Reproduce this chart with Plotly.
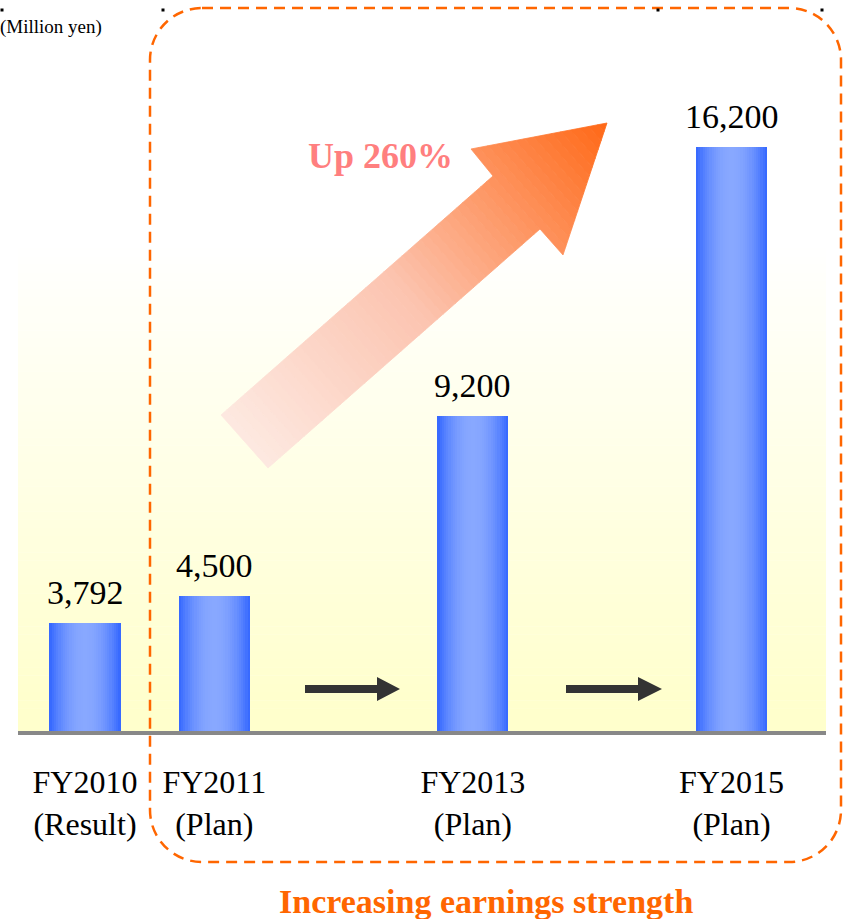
import plotly.graph_objects as go

# ---------------- data ----------------
years = [2010, 2011, 2013, 2015]
values = [3792, 4500, 9200, 16200]
tick_text = ["FY2010<br>(Result)", "FY2011<br>(Plan)", "FY2013<br>(Plan)", "FY2015<br>(Plan)"]
unit_label = "(Million yen)"
growth_label = "Up 260%"
footer_label = "Increasing earnings strength"

# ---------------- geometry helpers ----------------
W, H = 850, 919
PB = 733  # pixel row of the plot bottom (baseline)
FONT = "Liberation Serif"


def px(x):
    return x / W


def py(y):
    return (PB - y) / PB


def hexc(c):
    return "rgb(%d,%d,%d)" % tuple(int(round(v)) for v in c)


def lerp(a, b, t):
    return tuple(a[i] + (b[i] - a[i]) * t for i in range(3))


fig = go.Figure()

# ---------------- gradient bars (overlayed narrowing bars) ----------------
BW = 0.55
dark = (51, 102, 255)
light = (136, 168, 255)
N = 16
for k in range(N):
    w = BW * (1 - k / N)
    d = 1 - (k + 0.5) / N
    col = lerp(light, dark, d ** 2)
    fig.add_trace(go.Bar(x=years, y=values, width=w, marker=dict(color=hexc(col), line=dict(width=0)),
                         hoverinfo="skip", showlegend=False))

shapes = []

# ---------------- background gradient (white -> pale yellow) ----------------
top_y, bot_y = 240, PB
nb = 60
for i in range(nb):
    y0 = top_y + (bot_y - top_y) * i / nb
    y1 = top_y + (bot_y - top_y) * (i + 1) / nb
    t = (i + 0.5) / nb
    col = lerp((255, 255, 255), (255, 255, 204), min(1, t * 1.05))
    shapes.append(dict(type="rect", xref="paper", yref="paper", x0=px(18), x1=px(826),
                       y0=py(y1) - 0.0005, y1=py(y0), fillcolor=hexc(col), line=dict(width=0), layer="below"))

# ---------------- big gradient arrow ----------------
poly = [(221, 415), (268, 468), (540, 229), (563, 255), (607, 123), (471, 149), (493, 176)]
ox, oy = 244.5, 441.5
ux, uy = 362.5, -318.5
L = (ux ** 2 + uy ** 2) ** 0.5
ux, uy = ux / L, uy / L


def proj(p):
    return (p[0] - ox) * ux + (p[1] - oy) * uy


def clip(pts, a, keep_ge):
    out = []
    n = len(pts)
    for i in range(n):
        p, q = pts[i], pts[(i + 1) % n]
        tp, tq = proj(p) - a, proj(q) - a
        inp = tp >= 0 if keep_ge else tp <= 0
        inq = tq >= 0 if keep_ge else tq <= 0
        if inp:
            out.append(p)
        if inp != inq:
            s = tp / (tp - tq)
            out.append((p[0] + (q[0] - p[0]) * s, p[1] + (q[1] - p[1]) * s))
    return out


tvals = [proj(p) for p in poly]
tmin, tmax = min(tvals), max(tvals)
c0, cm, c1 = (253, 233, 225), (252, 196, 176), (255, 104, 22)
NS = 60
for i in range(NS):
    a = tmin + (tmax - tmin) * i / NS
    b = tmin + (tmax - tmin) * (i + 1) / NS
    seg = clip(clip(poly, a, True), b, False)
    if len(seg) < 3:
        continue
    t = ((a + b) / 2 - tmin) / (tmax - tmin)
    col = lerp(c0, cm, t / 0.45) if t < 0.45 else lerp(cm, c1, (t - 0.45) / 0.55)
    path = "M " + " L ".join("%.5f,%.5f" % (px(x), py(y)) for x, y in seg) + " Z"
    shapes.append(dict(type="path", xref="paper", yref="paper", path=path, fillcolor=hexc(col),
                       line=dict(color=hexc(col), width=0.8), layer="above"))

# ---------------- small black arrows ----------------
for (xs, xh, xt) in [(305, 377, 400), (566, 638, 662)]:
    pts = [(xs, 685), (xh, 685), (xh, 677), (xt, 689), (xh, 701), (xh, 693), (xs, 693)]
    path = "M " + " L ".join("%.5f,%.5f" % (px(x), py(y)) for x, y in pts) + " Z"
    shapes.append(dict(type="path", xref="paper", yref="paper", path=path, fillcolor="#333333",
                       line=dict(width=0), layer="above"))

# ---------------- baseline ----------------
shapes.append(dict(type="line", xref="paper", yref="paper", x0=px(18), x1=px(826), y0=py(733), y1=py(733),
                   line=dict(color="#888888", width=4), layer="above"))

# ---------------- dashed rounded box ----------------
xl, xr, yt, yb, r = 150, 841, 8, 862, 52
k = 0.5523 * r
pts_path = [
    ("M", [(xl + r, yt)]),
    ("L", [(xr - r, yt)]),
    ("C", [(xr - r + k, yt), (xr, yt + r - k), (xr, yt + r)]),
    ("L", [(xr, yb - r)]),
    ("C", [(xr, yb - r + k), (xr - r + k, yb), (xr - r, yb)]),
    ("L", [(xl + r, yb)]),
    ("C", [(xl + r - k, yb), (xl, yb - r + k), (xl, yb - r)]),
    ("L", [(xl, yt + r)]),
    ("C", [(xl, yt + r - k), (xl + r - k, yt), (xl + r, yt)]),
]
path = " ".join(cmd + " " + " ".join("%.5f,%.5f" % (px(x), py(y)) for x, y in ps) for cmd, ps in pts_path) + " Z"
shapes.append(dict(type="path", xref="paper", yref="paper", path=path,
                   line=dict(color="#FF6600", width=2.5, dash="11px,7px"), layer="above"))

# ---------------- tiny dots at top ----------------
for x in [2, 163, 658, 822]:
    shapes.append(dict(type="rect", xref="paper", yref="paper", x0=px(x - 1.5), x1=px(x + 1.5),
                       y0=py(11.5), y1=py(8.5), fillcolor="black", line=dict(width=0), layer="above"))

# ---------------- annotations ----------------
annotations = []
for x, v in zip(years, values):
    annotations.append(dict(x=x, y=v, xref="x", yref="y", text=f"{v:,}", showarrow=False,
                            yanchor="bottom", yshift=10, font=dict(family=FONT, size=34, color="black")))

annotations.append(dict(x=px(-2), y=py(27), xref="paper", yref="paper", text=unit_label, showarrow=False,
                        xanchor="left", yanchor="middle", font=dict(family=FONT, size=19, color="black")))
annotations.append(dict(x=px(380), y=py(156), xref="paper", yref="paper", text="<b>" + growth_label + "</b>",
                        showarrow=False, xanchor="center", yanchor="middle",
                        font=dict(family=FONT, size=36, color="#FF7F7F")))
annotations.append(dict(x=px(486), y=py(881), xref="paper", yref="paper", text="<b>" + footer_label + "</b>",
                        showarrow=False, xanchor="center", yanchor="top",
                        font=dict(family=FONT, size=34, color="#FF6600")))

# ---------------- layout ----------------
Y0 = 925
SCALE = 0.038363
Y1 = Y0 + PB / SCALE
XS = 129.3
X0 = 2010 - 85 / XS
X1 = X0 + W / XS

fig.update_layout(
    width=W, height=H,
    font=dict(family=FONT, color="black"),
    margin=dict(l=0, r=0, t=0, b=H - PB, pad=0),
    paper_bgcolor="white", plot_bgcolor="rgba(0,0,0,0)",
    barmode="overlay", bargap=0,
    showlegend=False,
    shapes=shapes,
    annotations=annotations,
    xaxis=dict(range=[X0, X1], tickmode="array", tickvals=years, ticktext=tick_text,
               tickfont=dict(family=FONT, size=32, color="black"), showgrid=False, zeroline=False,
               showline=False, ticks="", ticklabelstandoff=27),
    yaxis=dict(range=[Y0, Y1], visible=False, showgrid=False, zeroline=False),
)

fig.write_html("out.html")
